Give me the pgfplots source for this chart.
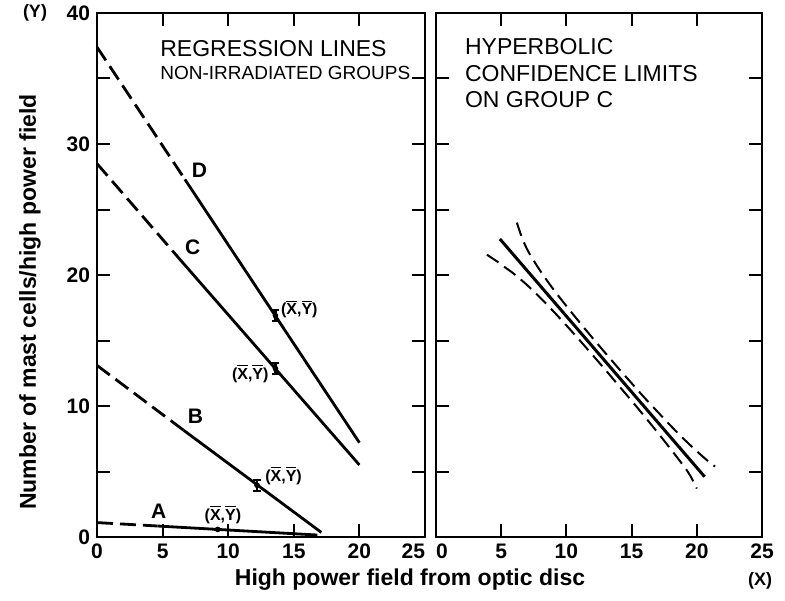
\documentclass[border=0pt]{standalone}
\usepackage{fontspec}
\setmainfont{Liberation Sans}
\usepackage{pgfplots}
\pgfplotsset{compat=1.18}

\newcommand{\xy}{(\ensuremath{\overline{\hbox{X}}},\ensuremath{\overline{\hbox{Y}}})}

\pgfplotsset{
  panel/.style={
    scale only axis,
    width=164pt, height=262pt,
    xmin=0, xmax=25, ymin=0, ymax=40,
    xtick={0,5,...,25},
    ytick={0,10,...,40},
    minor ytick={5,15,...,35},
    tick align=inside,
    major tick length=6.5pt,
    minor tick length=6.5pt,
    axis line style={line width=1.3pt},
    every tick/.style={black, line width=1pt},
    tick label style={font=\fontsize{10.5}{12}\selectfont\bfseries},
    /pgf/number format/assume math mode=true,
    clip=false,
  },
  dashline/.style={black, line width=1.4pt, dash pattern=on 8pt off 3.5pt},
  fullline/.style={black, line width=1.4pt},
  meanpt/.style={only marks, mark=*, mark size=1.2pt, black,
    error bars/y dir=both, error bars/y explicit,
    error bars/error bar style={line width=1.4pt, black},
    error bars/error mark options={rotate=90, mark size=1.8pt, line width=1pt}},
}

\begin{document}
\begin{tikzpicture}
\path[use as bounding box] (-48.5pt,-31.5pt) rectangle (344pt,268.5pt);

% left panel: regression lines
\begin{axis}[panel, at={(0pt,0pt)}, anchor=south west,
  xticklabels={0,5,10,15,20,\makebox[0pt][r]{25}}]
% D
\addplot[dashline] coordinates {(0,37.4) (6.7,27.3)};
\addplot[fullline] coordinates {(6.7,27.3) (20,7.2)};
% C
\addplot[dashline] coordinates {(0,28.5) (6.4,21.1)};
\addplot[fullline] coordinates {(6.4,21.1) (20,5.5)};
% B
\addplot[dashline] coordinates {(0,13.1) (6.6,8.15)};
\addplot[fullline] coordinates {(6.6,8.15) (17.1,0.35)};
% A
\addplot[dashline] coordinates {(0,1.1) (4.6,0.84)};
\addplot[fullline] coordinates {(4.6,0.84) (16.8,0.15)};
% means
\addplot[meanpt] coordinates {
  (13.6,16.9) +- (0,0.4)
  (13.6,12.86) +- (0,0.4)
  (12.2,3.95) +- (0,0.4)
  (9.2,0.58) +- (0,0.05)
};

\node[font=\fontsize{10.5}{12}\selectfont\bfseries] at (axis cs:7.8,28) {D};
\node[font=\fontsize{10.5}{12}\selectfont\bfseries] at (axis cs:7.3,22.1) {C};
\node[font=\fontsize{10.5}{12}\selectfont\bfseries] at (axis cs:7.5,9.2) {B};
\node[font=\fontsize{10.5}{12}\selectfont\bfseries] at (axis cs:4.7,2.0) {A};

\node[font=\fontsize{8}{9}\selectfont\bfseries, anchor=west, inner sep=0pt] at (axis cs:14.0,17.4) {\xy};
\node[font=\fontsize{8}{9}\selectfont\bfseries, anchor=east, inner sep=0pt] at (axis cs:13.1,12.5) {\xy};
\node[font=\fontsize{8}{9}\selectfont\bfseries, anchor=west, inner sep=0pt] at (axis cs:12.8,4.7) {\xy};
\node[font=\fontsize{8}{9}\selectfont\bfseries, inner sep=0pt] at (axis cs:9.6,1.7) {\xy};

\node[font=\fontsize{11.5}{13}\selectfont, anchor=base west, inner sep=0pt] at (axis cs:4.8,36.7) {REGRESSION LINES};
\node[font=\fontsize{9.5}{11}\selectfont, anchor=base west, inner sep=0pt] at (axis cs:4.8,34.9) {NON-IRRADIATED GROUPS};
\end{axis}

% right panel: hyperbolic confidence limits on group C
\begin{axis}[panel, at={(169.5pt,0pt)}, anchor=south west, width=163pt,
  xticklabels={\makebox[0pt][l]{0},5,10,15,20,25},
  yticklabels={}]
\addplot[black, line width=1.5pt] coordinates {(4.9,22.75) (20.6,4.6)};
\addplot[black, line width=1pt, dash pattern=on 7pt off 3.5pt, smooth] coordinates {
  (6.2,24.0) (6.6,22.83) (7.1,21.75) (8.0,20.31) (9,18.91) (10,17.63) (11,16.4)
  (12,15.2) (13,14.03) (14,12.87) (15,11.74) (16,10.62) (17,9.55) (18,8.49)
  (19,7.48) (20,6.55) (20.9,5.76) (21.4,5.38)
};
\addplot[black, line width=1pt, dash pattern=on 7pt off 3.5pt, smooth] coordinates {
  (3.9,21.55) (4.6,21.09) (5.3,20.58) (6,20.07) (7,19.22) (8,18.26) (9,17.23)
  (10,16.15) (11,15.04) (12,13.9) (13,12.75) (14,11.57) (15,10.4) (16,9.2)
  (17,7.97) (18,6.71) (19,5.41) (19.5,4.68) (20,3.7)
};
\node[font=\fontsize{11.5}{13}\selectfont, anchor=base west, inner sep=0pt] at (axis cs:2.2,36.8) {HYPERBOLIC};
\node[font=\fontsize{11.5}{13}\selectfont, anchor=base west, inner sep=0pt] at (axis cs:2.2,34.8) {CONFIDENCE LIMITS};
\node[font=\fontsize{11.5}{13}\selectfont, anchor=base west, inner sep=0pt] at (axis cs:2.2,32.8) {ON GROUP C};
\end{axis}

% outer labels
\node[font=\fontsize{11.5}{13}\selectfont\bfseries, anchor=base] at (156.5pt,-24pt) {High power field from optic disc};
\node[font=\fontsize{9}{10}\selectfont\bfseries, anchor=base] at (331.5pt,-24pt) {(X)};
\node[font=\fontsize{9}{10}\selectfont\bfseries, anchor=base] at (-31pt,259.5pt) {(Y)};
\node[font=\fontsize{11.5}{13}\selectfont\bfseries, rotate=90] at (-33.5pt,117.5pt) {Number of mast cells/high power field};
\end{tikzpicture}
\end{document}
